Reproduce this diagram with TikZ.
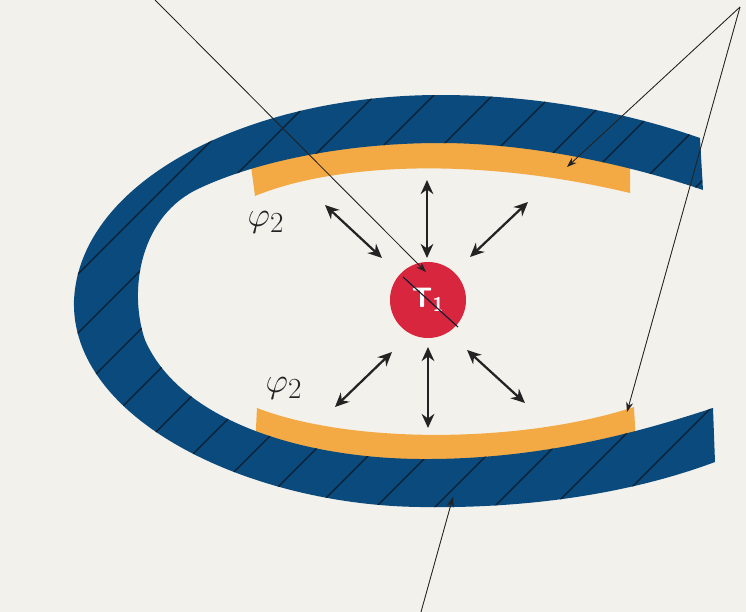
\documentclass[tikz,border=0pt]{standalone}
\usepackage{tikz}
\usetikzlibrary{arrows.meta,calc}
\definecolor{paper}{RGB}{243,241,236}
\definecolor{shell}{RGB}{10,74,125}
\definecolor{lining}{RGB}{243,170,68}
\definecolor{core}{RGB}{216,38,62}
\definecolor{ink}{RGB}{35,35,35}
\definecolor{hatchink}{RGB}{12,30,48}

\begin{document}
\begin{tikzpicture}[x=0.025cm, y=-0.025cm,
  hatch/.style={line width=0.8pt, draw=hatchink},
  flux/.style={{Stealth[length=10pt,width=9pt]}-{Stealth[length=10pt,width=9pt]}, line width=1.6pt, draw=ink, fill=ink},
  ptr/.style={-{Stealth[length=7pt,width=5pt]}, line width=0.6pt, draw=ink, fill=ink},
  lbl/.style={font=\fontsize{28}{32}\selectfont, text=ink, inner sep=0pt},
  src/.style={circle, fill=core, minimum size=1.9cm, inner sep=0pt, text=white, font=\sffamily\bfseries\fontsize{20}{24}\selectfont}]
\fill[paper] (0,0) rectangle (746,612);
\useasboundingbox (0,0) rectangle (746,612);

\fill[lining] (251,166) .. controls (330,136) and (470,126) .. (630,158) -- (630,193)
  .. controls (470,155) and (330,165) .. (255,196) -- cycle;
\fill[lining] (257,408) .. controls (350,444) and (520,444) .. (634,407) -- (636,445)
  .. controls (520,470) and (350,470) .. (255,448) -- cycle;

\begin{scope}
\clip (700,138) .. controls (620,110) and (530,95) .. (440,95)
  .. controls (250,95) and (80,180) .. (74,300)
  .. controls (70,420) and (250,505) .. (420,507)
  .. controls (540,509) and (640,490) .. (715,462) -- (713,408)
  .. controls (640,432) and (540,460) .. (420,459)
  .. controls (300,458) and (180,420) .. (145,340)
  .. controls (128,290) and (140,215) .. (200,188)
  .. controls (260,160) and (350,143) .. (440,143)
  .. controls (530,143) and (630,165) .. (703,190) -- cycle;
\fill[shell] (0,0) rectangle (746,612);
\foreach \c in {352,411,...,1180}
  \draw[hatch] (\c,0) -- (0,\c);
\end{scope}

\node[src] (t1) at (428,300) {T\textsubscript{1}};
\node[lbl] (phiA) at (266,222) {$\varphi_2$};
\node[lbl] (phiB) at (284,388) {$\varphi_2$};

\coordinate (p0) at (155,0);
\coordinate (p1) at (426,272);
\coordinate (apex) at (740,7);
\coordinate (topstrip) at (567,167);
\coordinate (botstrip) at (627,412);
\coordinate (foot) at (421,612);
\coordinate (band) at (453,497);

\draw[hatch] ($(t1)+(-25,-23)$) -- ($(t1)+(30,27)$);
\foreach \ax/\ay/\bx/\by in {-103/-95/-46/-42, -1/-120/-1/-42, 100/-98/42/-43, -93/107/-36/52, 0/47/0/128, 39/50/97/103}
  \draw[flux] ($(t1)+(\ax,\ay)$) -- ($(t1)+(\bx,\by)$);

\draw[ptr] (p0) -- (p1);
\draw[ptr] (apex) -- (topstrip);
\draw[ptr] (apex) -- (botstrip);
\draw[ptr] (foot) -- (band);
\end{tikzpicture}
\end{document}
